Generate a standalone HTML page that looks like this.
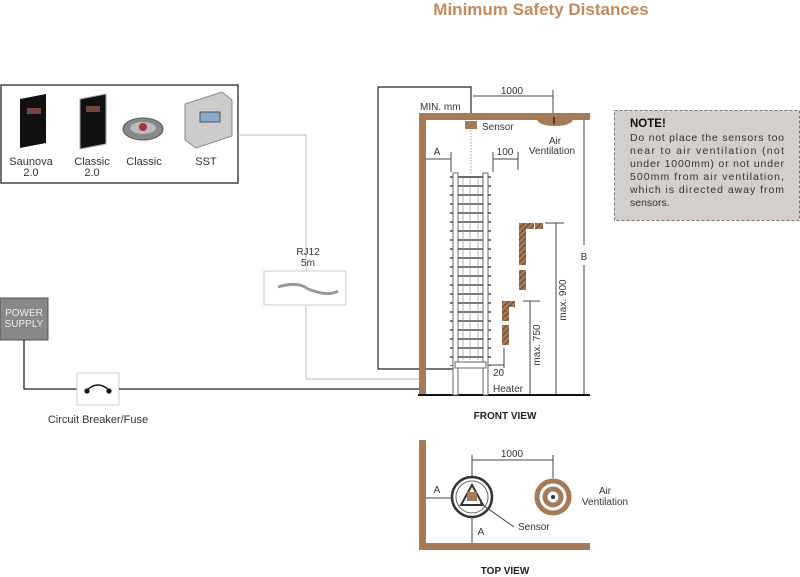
<!DOCTYPE html>
<html><head><meta charset="utf-8"><style>
html,body{margin:0;padding:0;background:#fff;}
svg{display:block;font-family:"Liberation Sans",sans-serif;}
</style></head><body>
<svg width="800" height="577" viewBox="0 0 800 577" xmlns="http://www.w3.org/2000/svg">
<defs>
<pattern id="bars" x="0" y="176" width="10" height="9" patternUnits="userSpaceOnUse">
<rect x="0" y="0" width="10" height="2" fill="#777"/>
</pattern>
<pattern id="hatch" width="4" height="4" patternUnits="userSpaceOnUse" patternTransform="rotate(45)">
<rect width="4" height="4" fill="#a47a57"/><rect width="1.2" height="4" fill="#6b4a30"/>
</pattern>
</defs>
<text x="541" y="15" text-anchor="middle" font-size="17" font-weight="bold" fill="#c48a5e">Minimum Safety Distances</text>

<!-- controllers box -->
<rect x="1" y="85" width="237" height="98" fill="#fff" stroke="#444" stroke-width="1.5"/>
<g>
<polygon points="20,99 46,94 46,143 20,148" fill="#111"/><rect x="27" y="108" width="14" height="6" fill="#744"/>
<polygon points="80,99 106,94 106,144 80,149" fill="#111" stroke="#aaa"/><rect x="86" y="106" width="14" height="6" fill="#744"/>
<ellipse cx="143" cy="129" rx="20" ry="11" fill="#888" stroke="#555"/><ellipse cx="143" cy="128" rx="13" ry="6" fill="#bbb"/><circle cx="143" cy="127" r="4" fill="#a33"/>
<polygon points="185,104 222,92 232,100 232,136 196,148 185,140" fill="#ccc" stroke="#888"/><rect x="200" y="112" width="20" height="10" fill="#8ac" stroke="#555"/>
</g>
<g font-size="11" fill="#333" text-anchor="middle">
<text x="31" y="165">Saunova</text><text x="31" y="176">2.0</text>
<text x="92" y="165">Classic</text><text x="92" y="176">2.0</text>
<text x="144" y="165">Classic</text>
<text x="206" y="165">SST</text>
</g>
<polyline points="238,135 306,135 306,271" fill="none" stroke="#bbb" stroke-width="1"/>
<text x="308" y="255" font-size="10" fill="#333" text-anchor="middle">RJ12</text>
<text x="308" y="266" font-size="10" fill="#333" text-anchor="middle">5m</text>
<rect x="264" y="271" width="82" height="34" fill="#fff" stroke="#ccc"/>
<path d="M278 287 q20 -6 30 2 q20 8 30 2" fill="none" stroke="#999" stroke-width="3"/>
<polyline points="306,305 306,379 420,379" fill="none" stroke="#bbb"/>

<rect x="0" y="298" width="48" height="42" fill="#888" stroke="#555"/>
<text x="24" y="316" font-size="10" fill="#eee" text-anchor="middle">POWER</text>
<text x="24" y="327" font-size="10" fill="#eee" text-anchor="middle">SUPPLY</text>
<polyline points="24,340 24,389 77,389" fill="none" stroke="#222" stroke-width="1.3"/>
<rect x="77" y="373" width="42" height="32" fill="#fff" stroke="#ccc"/>
<circle cx="87" cy="391" r="2.6" fill="#111"/><circle cx="109" cy="391" r="2.6" fill="#111"/>
<path d="M87 390 q11 -10 22 0" fill="none" stroke="#111" stroke-width="1.5"/>
<line x1="119" y1="389" x2="420" y2="389" stroke="#222" stroke-width="1.3"/>
<text x="98" y="423" font-size="11" fill="#333" text-anchor="middle">Circuit Breaker/Fuse</text>

<polyline points="471,120 471,87 378,87 378,369 453,369" fill="none" stroke="#222" stroke-width="1.2"/>

<rect x="419" y="114" width="7" height="281" fill="#a47a57"/>
<rect x="419" y="113" width="171" height="7" fill="#a47a57"/>
<line x1="418" y1="395" x2="590" y2="395" stroke="#111" stroke-width="2"/>
<text x="420" y="110" font-size="10" fill="#333">MIN. mm</text>
<line x1="473" y1="96" x2="553" y2="96" stroke="#444"/><line x1="553" y1="90" x2="553" y2="113" stroke="#444"/>
<text x="512" y="94" font-size="10" fill="#333" text-anchor="middle">1000</text>
<rect x="465" y="121" width="12" height="8" fill="#a47a57"/>
<line x1="471" y1="130" x2="471" y2="175" stroke="#999" stroke-dasharray="1.5,1.5"/>
<text x="482" y="130" font-size="10" fill="#333">Sensor</text>
<path d="M537 120 h36 q-3 6 -18 6 q-15 0 -18 -6z" fill="#a47a57"/><line x1="554" y1="117" x2="554" y2="124" stroke="#444" stroke-width="2"/>
<text x="555" y="144" font-size="10" fill="#333" text-anchor="middle">Air</text>
<text x="552" y="154" font-size="10" fill="#333" text-anchor="middle">Ventilation</text>
<line x1="426" y1="159" x2="451" y2="159" stroke="#444"/><line x1="451" y1="152" x2="451" y2="172" stroke="#444"/>
<text x="437" y="155" font-size="10" fill="#333" text-anchor="middle">A</text>
<line x1="493" y1="159" x2="518" y2="159" stroke="#444"/><line x1="493" y1="152" x2="493" y2="172" stroke="#444"/><line x1="518" y1="152" x2="518" y2="170" stroke="#444"/>
<text x="505" y="155" font-size="10" fill="#333" text-anchor="middle">100</text>

<rect x="450" y="176" width="41" height="190" fill="url(#bars)"/>
<rect x="453" y="173" width="5" height="222" fill="#fff" stroke="#666"/>
<rect x="483" y="173" width="5" height="222" fill="#fff" stroke="#666"/>
<line x1="458" y1="177" x2="483" y2="177" stroke="#666"/>
<g stroke="#999" stroke-width="0.7"><line x1="463" y1="178" x2="463" y2="360"/><line x1="470" y1="178" x2="470" y2="360"/><line x1="478" y1="178" x2="478" y2="360"/></g>
<rect x="455" y="362" width="31" height="6" fill="#fff" stroke="#666"/>
<line x1="458" y1="368" x2="458" y2="393" stroke="#666"/><line x1="483" y1="368" x2="483" y2="393" stroke="#666"/>

<rect x="519" y="223" width="7" height="24" fill="url(#hatch)"/>
<rect x="526" y="223" width="8" height="6" fill="url(#hatch)"/><rect x="535" y="223" width="8" height="6" fill="url(#hatch)"/>
<rect x="519" y="246" width="7" height="19" fill="url(#hatch)"/>
<rect x="519" y="270" width="7" height="20" fill="url(#hatch)"/>
<rect x="502" y="301" width="7" height="20" fill="url(#hatch)"/>
<rect x="509" y="301" width="6" height="6" fill="url(#hatch)"/>
<rect x="502" y="325" width="7" height="20" fill="url(#hatch)"/>
<line x1="504" y1="348" x2="504" y2="368" stroke="#444"/>
<line x1="489" y1="365" x2="504" y2="365" stroke="#444"/>
<text x="493" y="376" font-size="10" fill="#333">20</text>
<text x="493" y="392" font-size="10" fill="#333">Heater</text>
<line x1="530" y1="301" x2="530" y2="394" stroke="#444"/><line x1="523" y1="301" x2="540" y2="301" stroke="#444"/>
<text transform="translate(540,345) rotate(-90)" font-size="10" fill="#333" text-anchor="middle">max. 750</text>
<line x1="556" y1="223" x2="556" y2="394" stroke="#444"/><line x1="545" y1="223" x2="564" y2="223" stroke="#444"/>
<text transform="translate(566,300) rotate(-90)" font-size="10" fill="#333" text-anchor="middle">max. 900</text>
<line x1="584" y1="120" x2="584" y2="245" stroke="#444"/><line x1="584" y1="265" x2="584" y2="394" stroke="#444"/>
<text x="584" y="260" font-size="10" fill="#333" text-anchor="middle">B</text>
<text x="505" y="419" font-size="10" font-weight="bold" fill="#222" text-anchor="middle">FRONT VIEW</text>

<rect x="614.5" y="110.5" width="185" height="110" fill="#d3cfcc" stroke="#777" stroke-dasharray="3,2"/>
<text x="630" y="127" font-size="11.5" font-weight="bold" fill="#111">NOTE!</text>
<g font-size="10.5" fill="#333">
<text x="630" y="141" textLength="154" lengthAdjust="spacing">Do not place the sensors too</text>
<text x="630" y="154" textLength="154" lengthAdjust="spacing">near to air ventilation (not</text>
<text x="630" y="167" textLength="154" lengthAdjust="spacing">under 1000mm) or not under</text>
<text x="630" y="180" textLength="154" lengthAdjust="spacing">500mm from air ventilation,</text>
<text x="630" y="193" textLength="154" lengthAdjust="spacing">which is directed away from</text>
<text x="630" y="206">sensors.</text>
</g>

<rect x="419" y="440" width="7" height="110" fill="#a47a57"/>
<rect x="419" y="543" width="171" height="7" fill="#a47a57"/>
<line x1="472" y1="460" x2="553" y2="460" stroke="#444"/>
<line x1="472" y1="455" x2="472" y2="476" stroke="#444"/><line x1="553" y1="455" x2="553" y2="478" stroke="#444"/>
<text x="512" y="457" font-size="10" fill="#333" text-anchor="middle">1000</text>
<circle cx="472" cy="497" r="20" fill="#fff" stroke="#333" stroke-width="2.5"/>
<circle cx="472" cy="497" r="16" fill="none" stroke="#666"/>
<polygon points="461,505 472,485 483,505" fill="none" stroke="#333" stroke-width="2"/>
<rect x="467" y="492" width="10" height="9" fill="#a47a57"/>
<line x1="426" y1="498" x2="452" y2="498" stroke="#444"/>
<text x="437" y="493" font-size="10" fill="#333" text-anchor="middle">A</text>
<line x1="472" y1="517" x2="472" y2="543" stroke="#444"/>
<text x="481" y="535" font-size="10" fill="#333" text-anchor="middle">A</text>
<line x1="480" y1="503" x2="514" y2="527" stroke="#444"/>
<text x="518" y="530" font-size="10" fill="#333">Sensor</text>
<circle cx="553" cy="497" r="16" fill="none" stroke="#a47a57" stroke-width="5"/>
<circle cx="553" cy="497" r="8" fill="none" stroke="#a47a57" stroke-width="5"/>
<circle cx="553" cy="497" r="2" fill="#333"/>
<text x="605" y="494" font-size="10" fill="#333" text-anchor="middle">Air</text>
<text x="605" y="505" font-size="10" fill="#333" text-anchor="middle">Ventilation</text>
<text x="505" y="574" font-size="10" font-weight="bold" fill="#222" text-anchor="middle">TOP VIEW</text>
</svg>
</body></html>
